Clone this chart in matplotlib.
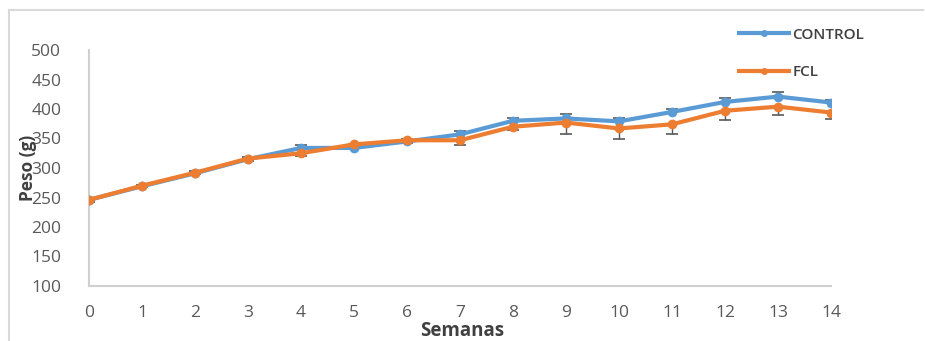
import matplotlib.pyplot as plt
from matplotlib.lines import Line2D

# Data
semanas = list(range(15))
control = [246, 269, 291, 315, 334, 334, 345, 357, 380, 384, 379, 395, 412, 421, 411]
control_err = [3, 3, 4, 4, 5, 4, 4, 6, 5, 7, 5, 5, 6, 8, 5]
fcl = [246, 270, 292, 316, 325, 340, 347, 347, 370, 377, 367, 374, 397, 404, 394]
fcl_err = [3, 3, 3, 4, 5, 4, 4, 8, 6, 19, 17, 17, 15, 15, 11]

BLUE = '#5B9BD5'
ORANGE = '#ED7D31'
GREY = '#595959'

plt.rcParams['font.family'] = ['Open Sans', 'DejaVu Sans']

fig = plt.figure(figsize=(9.25, 3.41), dpi=100)
ax = fig.add_axes([89 / 925, 1 - 286 / 341, (831 - 89) / 925, (286 - 50) / 341])

# Error bars: control upward, FCL downward (Excel style caps)
ax.errorbar(semanas, control, yerr=[[0] * 15, control_err], fmt='none',
            ecolor=GREY, elinewidth=1, capsize=4, capthick=1.2, zorder=2)
ax.errorbar(semanas, fcl, yerr=[fcl_err, [0] * 15], fmt='none',
            ecolor=GREY, elinewidth=1, capsize=4, capthick=1.2, zorder=2)

ax.plot(semanas, control, color=BLUE, lw=3, marker='o', ms=6, zorder=3,
        solid_capstyle='round')
ax.plot(semanas, fcl, color=ORANGE, lw=3, marker='o', ms=6, zorder=4,
        solid_capstyle='round')

ax.set_xlim(0, 14)
ax.set_ylim(100, 500)
ax.set_xticks(semanas)
ax.set_yticks(range(100, 501, 50))
ax.tick_params(length=0, labelsize=12.5, labelcolor=GREY)
ax.tick_params(axis='x', pad=14)
ax.tick_params(axis='y', pad=20)
for side in ['top', 'right']:
    ax.spines[side].set_visible(False)
for side in ['left', 'bottom']:
    ax.spines[side].set_color('#D0D0D0')
    ax.spines[side].set_linewidth(1.5)

# axis titles (the y title sits over the tick labels, as in the original)
fig.text(462 / 925, 1 - 331 / 341, 'Semanas', ha='center', va='center',
         fontsize=13.5, fontweight='bold', color='#404040')
fig.text(28 / 925, 1 - 168 / 341, 'Peso (g)', ha='center', va='center',
         rotation=90, fontsize=12.5, fontweight='bold', color='#404040')

# Legend at top right
handles = [Line2D([], [], color=BLUE, lw=3, marker='o', ms=4),
           Line2D([], [], color=ORANGE, lw=3, marker='o', ms=4)]
fig.legend(handles, ['CONTROL', 'FCL'], loc='upper left',
           bbox_to_anchor=(725 / 925, 1 - 14 / 341), frameon=False,
           prop={'size': 11, 'weight': 'semibold'}, labelspacing=1.55,
           handlelength=3.3, handletextpad=0.2, labelcolor='#404040')

# Light frame around the chart area
fig.add_artist(Line2D([9 / 925, 9 / 925], [0, 1 - 10 / 341],
                      transform=fig.transFigure, color='#D9D9D9', lw=1.5))
fig.add_artist(Line2D([9 / 925, 923 / 925], [1 - 10 / 341, 1 - 10 / 341],
                      transform=fig.transFigure, color='#D9D9D9', lw=1.5))

fig.savefig('out.png', dpi=100)
